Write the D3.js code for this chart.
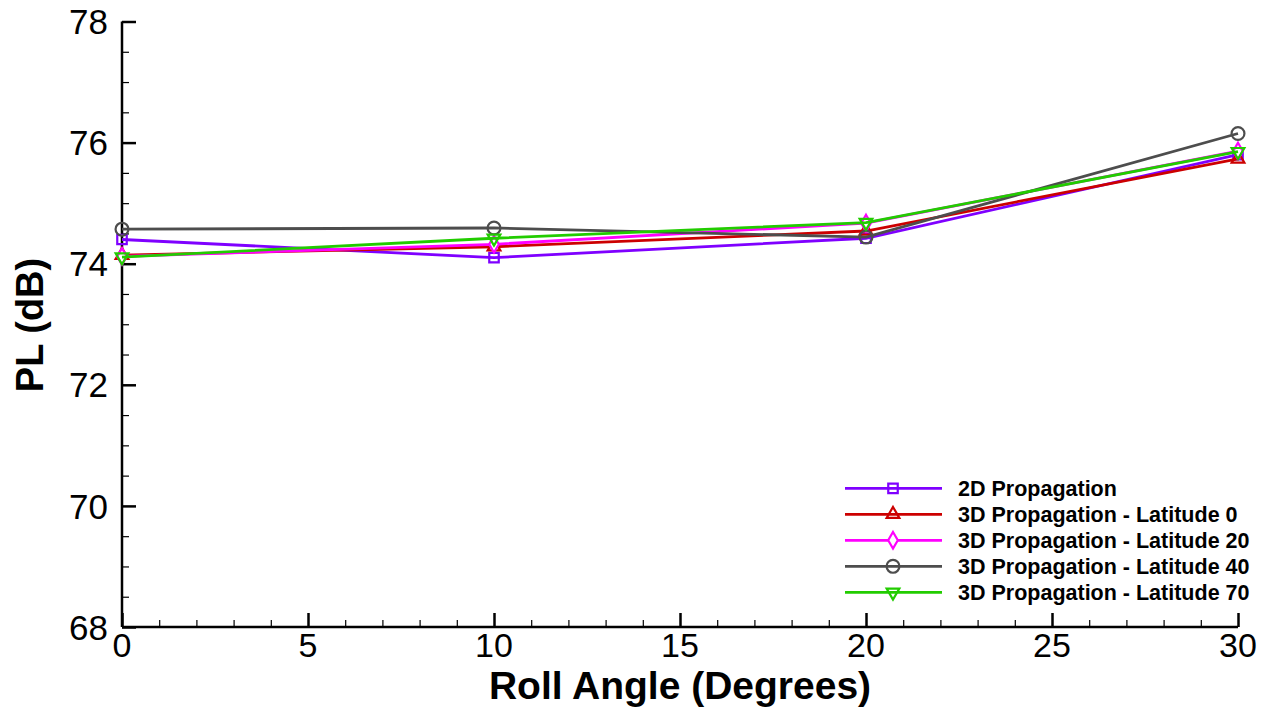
<!DOCTYPE html>
<html>
<head>
<meta charset="utf-8">
<script src="https://cdn.jsdelivr.net/npm/d3@7"></script>
<style>
  html, body { margin: 0; padding: 0; background: #fff; }
  svg { display: block; }
  text { font-family: "Liberation Sans", Arial, Helvetica, sans-serif; }
</style>
</head>
<body>
<svg id="chart" width="1270" height="712"></svg>
<script>
// ---- data ----
const rollAngles = [0, 10, 20, 30];
const seriesNames = [
  "2D Propagation",
  "3D Propagation - Latitude 0",
  "3D Propagation - Latitude 20",
  "3D Propagation - Latitude 40",
  "3D Propagation - Latitude 70"
];
const pl2D = [74.40, 74.10, 74.42, 75.80];
const plLat0 = [74.14, 74.28, 74.54, 75.73];
const plLat20 = [74.12, 74.32, 74.67, 75.86];
const plLat40 = [74.57, 74.59, 74.44, 76.15];
const plLat70 = [74.11, 74.42, 74.68, 75.85];
const xTicks = [0, 5, 10, 15, 20, 25, 30];
const yTicks = [68, 70, 72, 74, 76, 78];

const seriesColors = ["#7f00ff", "#cc0000", "#ff00ff", "#4d4d4d", "#22cc00"];
const seriesSymbols = ["square", "triangle", "diamond", "circle", "triangleDown"];
const seriesValues = [pl2D, plLat0, plLat20, plLat40, plLat70];

const svg = d3.select("#chart");
const x = d3.scaleLinear().domain([0, 30]).range([122, 1238]);
const y = d3.scaleLinear().domain([68, 78]).range([627, 21.5]);

// axes
const gx = svg.append("g").attr("transform", `translate(0,${y(68)})`);
gx.call(d3.axisBottom(x).tickValues(d3.range(0, 31, 1)).tickSize(0).tickFormat(""));
gx.select(".domain").remove();
gx.append("line").attr("x1", x(0)).attr("x2", x(30)).attr("stroke", "#000").attr("stroke-width", 2.5);
gx.selectAll(".tick line")
  .attr("y2", d => (d % 5 === 0 ? -14 : -7))
  .attr("stroke", "#000")
  .attr("stroke-width", d => (d % 5 === 0 ? 2.5 : 1.2));
gx.selectAll(".xlab").data(xTicks).enter().append("text")
  .attr("x", d => x(d)).attr("y", 30)
  .attr("text-anchor", "middle").attr("font-size", 34).attr("fill", "#000")
  .text(d => d);

const gy = svg.append("g").attr("transform", `translate(${x(0)},0)`);
gy.call(d3.axisLeft(y).tickValues(d3.range(68, 78.01, 0.5)).tickSize(0).tickFormat(""));
gy.select(".domain").remove();
gy.append("line").attr("y1", y(78)).attr("y2", y(68)).attr("stroke", "#000").attr("stroke-width", 2.5);
gy.selectAll(".tick line")
  .attr("x2", d => (Math.abs(d % 2) < 1e-9 ? 14 : 7))
  .attr("stroke", "#000")
  .attr("stroke-width", d => (Math.abs(d % 2) < 1e-9 ? 2.5 : 1.2));
gy.selectAll(".ylab").data(yTicks).enter().append("text")
  .attr("x", -14).attr("y", d => y(d)).attr("dy", "0.36em")
  .attr("text-anchor", "end").attr("font-size", 35).attr("fill", "#000")
  .text(d => d);

// axis titles
svg.append("text").attr("x", 680).attr("y", 699)
  .attr("text-anchor", "middle").attr("font-size", 39).attr("font-weight", "bold")
  .text("Roll Angle (Degrees)");
svg.append("text").attr("transform", "translate(43,325) rotate(-90)")
  .attr("text-anchor", "middle").attr("font-size", 38).attr("font-weight", "bold")
  .text("PL (dB)");

// symbols
function symbolPath(kind) {
  const map = {
    square: d3.symbol(d3.symbolSquare, 90),
    triangle: d3.symbol(d3.symbolTriangle, 70),
    diamond: d3.symbol(d3.symbolDiamond, 80),
    circle: d3.symbol(d3.symbolCircle, 130),
    triangleDown: d3.symbol(d3.symbolTriangle, 70)
  };
  return map[kind]();
}
function drawMarker(g, kind, color, cx, cy) {
  const rot = kind === "triangleDown" ? " rotate(180)" : "";
  g.append("path")
    .attr("d", symbolPath(kind))
    .attr("transform", `translate(${cx},${cy})${rot}`)
    .attr("fill", kind === "diamond" ? "#fff" : "none")
    .attr("stroke", color).attr("stroke-width", 2.2);
}

const line = d3.line().x(d => x(d[0])).y(d => y(d[1]));
const plot = svg.append("g");
seriesValues.forEach((vals, i) => {
  const pts = rollAngles.map((a, j) => [a, vals[j]]);
  const g = plot.append("g");
  g.append("path").datum(pts).attr("d", line)
    .attr("fill", "none").attr("stroke", seriesColors[i]).attr("stroke-width", 2.8);
  pts.forEach(p => drawMarker(g, seriesSymbols[i], seriesColors[i], x(p[0]), y(p[1])));
});

// legend
const lg = svg.append("g");
seriesNames.forEach((name, i) => {
  const cy = 488.3 + i * 26;
  lg.append("line").attr("x1", 845).attr("x2", 942).attr("y1", cy).attr("y2", cy)
    .attr("stroke", seriesColors[i]).attr("stroke-width", 2.8);
  drawMarker(lg, seriesSymbols[i], seriesColors[i], 893, cy);
  lg.append("text").attr("x", 958).attr("y", cy + 7.5)
    .attr("font-size", 21.5).attr("font-weight", "bold").attr("fill", "#000")
    .text(name);
});
</script>
</body>
</html>
